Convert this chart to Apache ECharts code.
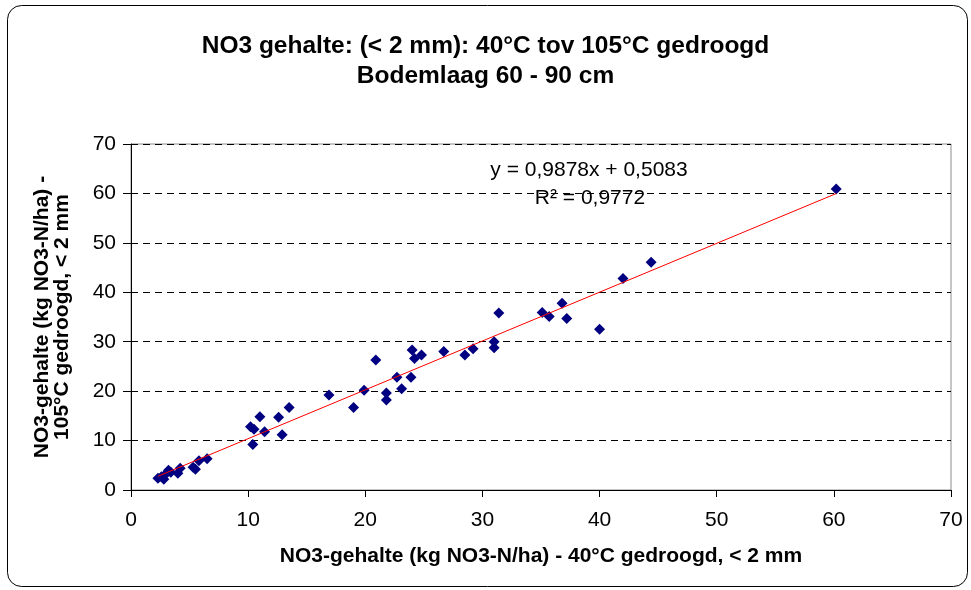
<!DOCTYPE html>
<html>
<head>
<meta charset="utf-8">
<script src="https://cdn.jsdelivr.net/npm/echarts@6/dist/echarts.min.js"></script>
<style>
html,body{margin:0;padding:0;background:#fff;}
#chart{width:971px;height:590px;}
</style>
</head>
<body>
<div id="chart"></div>
<script>
// ---- data ----
const titleLines = ['NO3 gehalte: (< 2 mm): 40°C tov 105°C gedroogd', 'Bodemlaag 60 - 90 cm'];
const xAxisName = 'NO3-gehalte (kg NO3-N/ha) - 40°C gedroogd, < 2 mm';
const yAxisName = 'NO3-gehalte (kg NO3-N/ha) -\n105°C gedroogd, < 2 mm';
const xValues = [2.3, 2.6, 2.9, 2.8, 3.2, 3.4, 4.0, 4.2, 5.3, 5.5, 5.8, 6.5,
  10.2, 10.5, 10.4, 11.0, 11.4, 12.6, 12.9, 13.5, 16.9, 19.0, 19.9, 20.9, 21.8, 21.8,
  22.7, 23.1, 23.9, 24.0, 24.2, 24.8, 26.7, 28.5, 29.2, 31.0, 31.0, 31.4, 35.1, 35.7,
  36.8, 37.2, 40.0, 42.0, 44.4, 60.2];
const yValues = [2.4, 2.7, 3.1, 2.2, 4.0, 3.6, 3.4, 4.4, 4.6, 4.2, 5.9, 6.3,
  12.8, 12.3, 9.2, 14.8, 11.8, 14.7, 11.2, 16.7, 19.2, 16.7, 20.2, 26.3, 19.6, 18.2,
  22.8, 20.5, 22.8, 28.3, 26.6, 27.3, 28.0, 27.3, 28.6, 30.0, 28.8, 35.8, 35.9, 35.1,
  37.8, 34.7, 32.5, 42.8, 46.1, 60.9];
const trendCoef = [0.9878, 0.5083]; // slope, intercept
const trendLabel = 'y = 0,9878x + 0,5083';
const r2Label = 'R² = 0,9772';
const axisTicks = [0, 10, 20, 30, 40, 50, 60, 70];

// ---- build ----
const pts = xValues.map((x, i) => [x, yValues[i]]);
const xmin = Math.min(...xValues), xmax = Math.max(...xValues);
const trend = [[xmin, trendCoef[0] * xmin + trendCoef[1]], [xmax, trendCoef[0] * xmax + trendCoef[1]]];
const FONT = "'Liberation Sans', Arial, sans-serif";

const chart = echarts.init(document.getElementById('chart'));
chart.setOption({
  animation: false,
  backgroundColor: '#fff',
  title: {
    text: titleLines.join('\n'),
    left: 'center',
    top: 26,
    textStyle: { fontFamily: FONT, fontSize: 24.5, fontWeight: 'bold', color: '#000', lineHeight: 30 }
  },
  grid: { left: 131, right: 20, top: 144, bottom: 100, show: true, borderColor: '#8c8c8c', borderWidth: 1 },
  xAxis: {
    type: 'value', min: axisTicks[0], max: axisTicks[axisTicks.length - 1], interval: 10,
    name: xAxisName, nameLocation: 'middle', nameGap: 56,
    nameTextStyle: { fontFamily: FONT, fontSize: 21, fontWeight: 'bold', color: '#000' },
    axisLine: { lineStyle: { color: '#000', width: 1 } },
    axisTick: { show: true, length: 7, inside: false, lineStyle: { color: '#000' } },
    axisLabel: { fontFamily: FONT, fontSize: 21, color: '#000', margin: 20 },
    splitLine: { show: false }
  },
  yAxis: {
    type: 'value', min: axisTicks[0], max: axisTicks[axisTicks.length - 1], interval: 10,
    name: yAxisName, nameLocation: 'middle', nameGap: 59, nameRotate: 90,
    nameTextStyle: { fontFamily: FONT, fontSize: 21, fontWeight: 'bold', color: '#000', lineHeight: 20 },
    axisLine: { lineStyle: { color: '#000', width: 1 } },
    axisTick: { show: true, length: 8, inside: false, lineStyle: { color: '#000' } },
    axisLabel: { fontFamily: FONT, fontSize: 21, color: '#000', margin: 15 },
    splitLine: { show: true, lineStyle: { color: '#000', type: [7, 5], width: 1 } }
  },
  series: [
    {
      type: 'scatter', data: pts, symbol: 'diamond', symbolSize: 11,
      itemStyle: { color: '#000080', opacity: 1 }, z: 3
    },
    {
      type: 'line', data: trend, showSymbol: false, symbol: 'none',
      lineStyle: { color: '#ff0000', width: 1 }, z: 4, silent: true
    }
  ],
  graphic: [
    {
      type: 'rect', z: -10, silent: true,
      shape: { x: 7.5, y: 5.5, width: 960, height: 581, r: 14 },
      style: { fill: 'none', stroke: '#000', lineWidth: 1 }
    },
    {
      type: 'text', z: 10, x: 589, y: 170,
      style: { text: trendLabel, font: "21px 'Liberation Sans', Arial, sans-serif", fill: '#000', align: 'center', verticalAlign: 'middle' }
    },
    {
      type: 'text', z: 10, x: 590, y: 198,
      style: { text: r2Label, font: "21px 'Liberation Sans', Arial, sans-serif", fill: '#000', align: 'center', verticalAlign: 'middle' }
    }
  ]
});
</script>
</body>
</html>
